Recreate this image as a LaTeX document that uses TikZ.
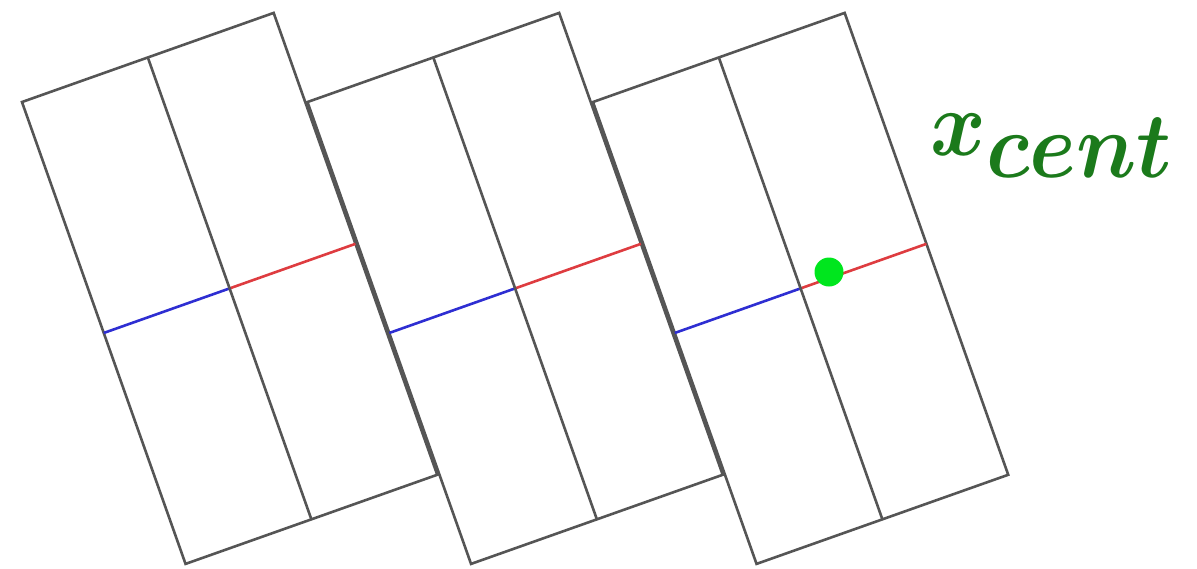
\documentclass[tikz,border=0pt]{standalone}
\usepackage{amsmath}
\usetikzlibrary{calc}
\definecolor{frameline}{HTML}{555555}
\definecolor{leftline}{HTML}{2E2ED2}
\definecolor{rightline}{HTML}{DE3C40}
\definecolor{dotgreen}{HTML}{00E61E}
\definecolor{centgreen}{HTML}{1B7A1B}
\tikzset{
  sheet/.style={
    draw=frameline, line width=2.6pt,
    rotate=19.5, inner sep=0pt, outer sep=0pt,
    minimum width=267pt, minimum height=490pt
  },
  divider/.style={draw=frameline, line width=2.6pt},
  lefthalf/.style={draw=leftline, line width=2.6pt},
  righthalf/.style={draw=rightline, line width=2.6pt}
}
\begin{document}
\begin{tikzpicture}[x=1pt, y=-1pt]
  \useasboundingbox (0,0) rectangle (1197,568);
  % three tilted sheets
  \foreach \i/\cx in {1/229.6, 2/515.1, 3/800.6} {
    \node[sheet] (s\i) at (\cx,288.4) {};
    \draw[lefthalf] (s\i.west) -- (s\i.center);
    \draw[righthalf] (s\i.center) -- (s\i.east);
    \draw[divider] (s\i.north) -- (s\i.south);
  }
  \node[circle, fill=dotgreen, minimum size=29pt, inner sep=0pt] (cent) at (829,272) {};
  \node[anchor=base west, text=centgreen, font=\Huge, xscale=3.4, yscale=3.75, inner sep=0pt] (xcent) at (930,155)
    {$\boldsymbol{x}\raisebox{-0.57ex}{$\boldsymbol{cent}$}$};
\end{tikzpicture}
\end{document}
